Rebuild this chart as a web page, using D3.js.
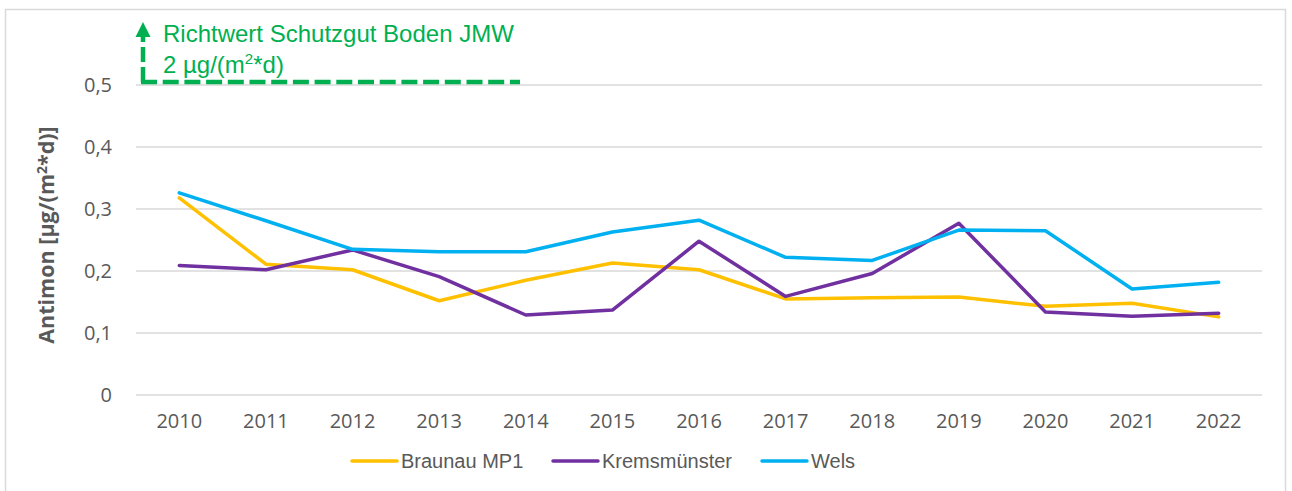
<!DOCTYPE html>
<html>
<head>
<meta charset="utf-8">
<script src="https://cdn.jsdelivr.net/npm/d3@7"></script>
<style>
  body { margin: 0; background: #fff; }
  svg { display: block; }
</style>
</head>
<body>
<div id="chart"></div>
<script>
// Jahre und Messwerte (Antimon, µg/(m²*d))
var years = ["2010", "2011", "2012", "2013", "2014", "2015", "2016", "2017", "2018", "2019", "2020", "2021", "2022"];
var braunau = [0.318, 0.211, 0.202, 0.152, 0.185, 0.213, 0.202, 0.155, 0.157, 0.158, 0.143, 0.148, 0.126];
var kremsmuenster = [0.209, 0.202, 0.234, 0.191, 0.129, 0.137, 0.248, 0.159, 0.196, 0.277, 0.134, 0.127, 0.132];
var wels = [0.326, 0.281, 0.235, 0.231, 0.231, 0.263, 0.282, 0.222, 0.217, 0.266, 0.265, 0.171, 0.182];
var seriesNames = ["Braunau MP1", "Kremsmünster", "Wels"];
var yTicks = [0, 0.1, 0.2, 0.3, 0.4, 0.5];

var colors = ["#FFC000", "#7030A0", "#00B0F0"];
var green = "#00B050";
var textGray = "#595959";

var width = 1292, height = 491;

var svg = d3.select("#chart").append("svg")
    .attr("width", width)
    .attr("height", height);

// Rahmen
svg.append("rect")
    .attr("x", 5.5).attr("y", 9.5)
    .attr("width", 1280).attr("height", 490)
    .attr("fill", "none")
    .attr("stroke", "#d9d9d9")
    .attr("stroke-width", 1.5);

var x = d3.scaleBand()
    .domain(years)
    .range([136, 1262]);

var y = d3.scaleLinear()
    .domain([0, 0.5])
    .range([395, 85]);

// Gitterlinien
svg.append("g")
  .selectAll("line")
  .data(yTicks)
  .enter().append("line")
    .attr("x1", x.range()[0])
    .attr("x2", x.range()[1])
    .attr("y1", function(d) { return y(d); })
    .attr("y2", function(d) { return y(d); })
    .attr("stroke", "#d9d9d9")
    .attr("stroke-width", 1.5);

// y-Achse
var yAxis = d3.axisLeft(y)
    .tickValues(yTicks)
    .tickSize(0)
    .tickPadding(0)
    .tickFormat(function(d) { return d === 0 ? "0" : d3.format(".1f")(d).replace(".", ","); });

var gy = svg.append("g")
    .attr("transform", "translate(112,0)")
    .call(yAxis);
gy.select(".domain").remove();
gy.selectAll("text")
    .attr("font-family", "'Open Sans', sans-serif")
    .attr("font-size", 20)
    .attr("fill", textGray);

// x-Achse
var xAxis = d3.axisBottom(x).tickSize(0).tickPadding(0);
var gx = svg.append("g")
    .attr("transform", "translate(0,414)")
    .call(xAxis);
gx.select(".domain").remove();
gx.selectAll("text")
    .attr("font-family", "'Open Sans', sans-serif")
    .attr("font-size", 20)
    .attr("fill", textGray);

// Achsentitel
svg.append("text")
    .attr("transform", "translate(54,235) rotate(-90)")
    .attr("text-anchor", "middle")
    .attr("font-family", "'Open Sans', sans-serif")
    .attr("font-weight", "bold")
    .attr("font-size", 21.5)
    .attr("fill", textGray)
    .html('Antimon [µg/(m<tspan dy="-7" font-size="14">2</tspan><tspan dy="7">*d)]</tspan>');

// Linien
var allSeries = [braunau, kremsmuenster, wels];
var line = d3.line()
    .x(function(d, i) { return x(years[i]) + x.bandwidth() / 2; })
    .y(function(d) { return y(d); });

svg.append("g")
  .selectAll("path")
  .data(allSeries)
  .enter().append("path")
    .attr("d", line)
    .attr("fill", "none")
    .attr("stroke", function(d, i) { return colors[i]; })
    .attr("stroke-width", 3.5)
    .attr("stroke-linejoin", "round")
    .attr("stroke-linecap", "round");

// Legende
var legendX = [352, 553, 762];
var legend = svg.append("g")
  .selectAll("g")
  .data(seriesNames)
  .enter().append("g")
    .attr("transform", function(d, i) { return "translate(" + legendX[i] + ",461)"; });
legend.append("line")
    .attr("x1", 0).attr("x2", 45)
    .attr("stroke", function(d, i) { return colors[i]; })
    .attr("stroke-width", 3.5)
    .attr("stroke-linecap", "round");
legend.append("text")
    .attr("x", 49)
    .attr("dy", "0.36em")
    .attr("font-family", "'Liberation Sans', Arial, sans-serif")
    .attr("font-size", 20)
    .attr("fill", textGray)
    .text(function(d) { return d; });

// Richtwert-Hinweis (2 µg/(m²*d) liegt oberhalb der Skala)
var refY = y(0.5) - 3;
var ann = svg.append("g");
ann.append("line")
    .attr("x1", 141).attr("x2", 520)
    .attr("y1", refY).attr("y2", refY)
    .attr("stroke", green)
    .attr("stroke-width", 4.5)
    .attr("stroke-dasharray", "16,5.7");
ann.append("line")
    .attr("x1", 143).attr("x2", 143)
    .attr("y1", refY).attr("y2", 36)
    .attr("stroke", green)
    .attr("stroke-width", 4.5)
    .attr("stroke-dasharray", "15,5");
ann.append("path")
    .attr("d", "M135.5,37 L150.5,37 L143,22 Z")
    .attr("fill", green);
ann.append("text")
    .attr("x", 163).attr("y", 42)
    .attr("font-family", "'Liberation Sans', Arial, sans-serif")
    .attr("font-size", 24)
    .attr("fill", green)
    .text("Richtwert Schutzgut Boden JMW");
ann.append("text")
    .attr("x", 163).attr("y", 73)
    .attr("font-family", "'Liberation Sans', Arial, sans-serif")
    .attr("font-size", 24)
    .attr("fill", green)
    .html('2 µg/(m<tspan dy="-9" font-size="15">2</tspan><tspan dy="9">*d)</tspan>');
</script>
</body>
</html>
